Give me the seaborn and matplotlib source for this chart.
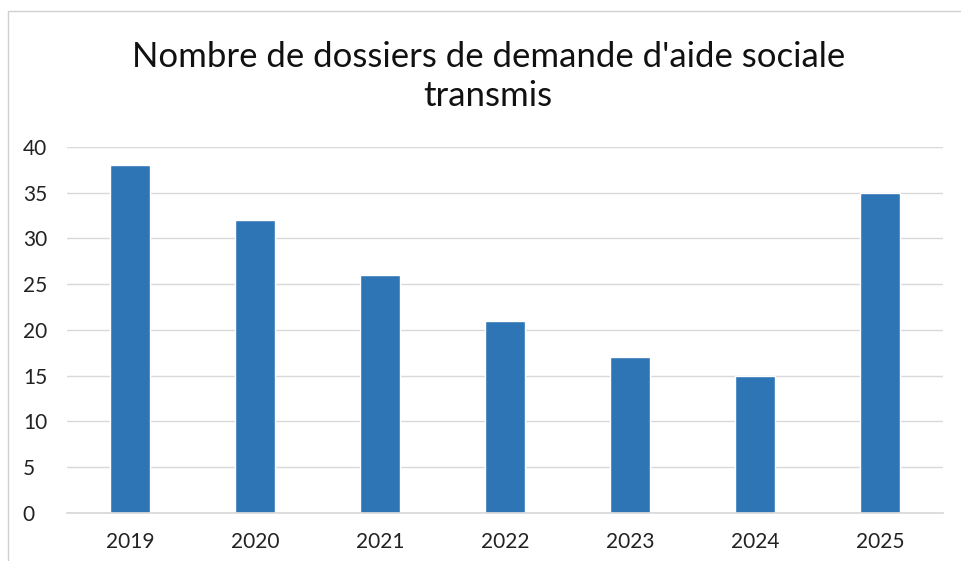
import matplotlib
matplotlib.use("Agg")
import matplotlib.pyplot as plt
import seaborn as sns
import pandas as pd
from matplotlib.patches import Rectangle

years = ["2019", "2020", "2021", "2022", "2023", "2024", "2025"]
dossiers = [38, 32, 26, 21, 17, 15, 35]
title = "Nombre de dossiers de demande d'aide sociale\ntransmis"

df = pd.DataFrame({"annee": years, "dossiers": dossiers})

sns.set_theme(style="whitegrid")
plt.rcParams["font.family"] = ["Lato", "DejaVu Sans"]

fig = plt.figure(figsize=(9.61, 5.61), dpi=100)
ax = fig.add_axes([0.070, 0.086, 0.911, 0.652])

sns.barplot(data=df, x="annee", y="dossiers", color="#2e75b6", width=0.32,
            saturation=1, ax=ax)

ax.set_ylim(0, 40)
ax.set_yticks(range(0, 41, 5))
ax.set_xlim(-0.5, len(years) - 0.5)
ax.set_xlabel("")
ax.set_ylabel("")
ax.grid(axis="y", color="#d9d9d9", linewidth=1)
ax.grid(axis="x", visible=False)
for side in ["top", "right", "left"]:
    ax.spines[side].set_visible(False)
ax.spines["bottom"].set_color("#d9d9d9")
ax.tick_params(axis="both", labelsize=15, colors="#222222", length=0)
ax.tick_params(axis="y", pad=32)
ax.tick_params(axis="x", pad=14)
for lbl in ax.get_yticklabels():
    lbl.set_horizontalalignment("left")

fig.text(0.508, 0.864, title, ha="center", va="center", fontsize=25,
         color="#111111", linespacing=1.25)

fig.patches.append(Rectangle((0.008, -0.01), 1.0, 0.99, transform=fig.transFigure,
                             fill=False, edgecolor="#d0d0d0", linewidth=1))

fig.savefig("out.png", dpi=100, facecolor="white")
